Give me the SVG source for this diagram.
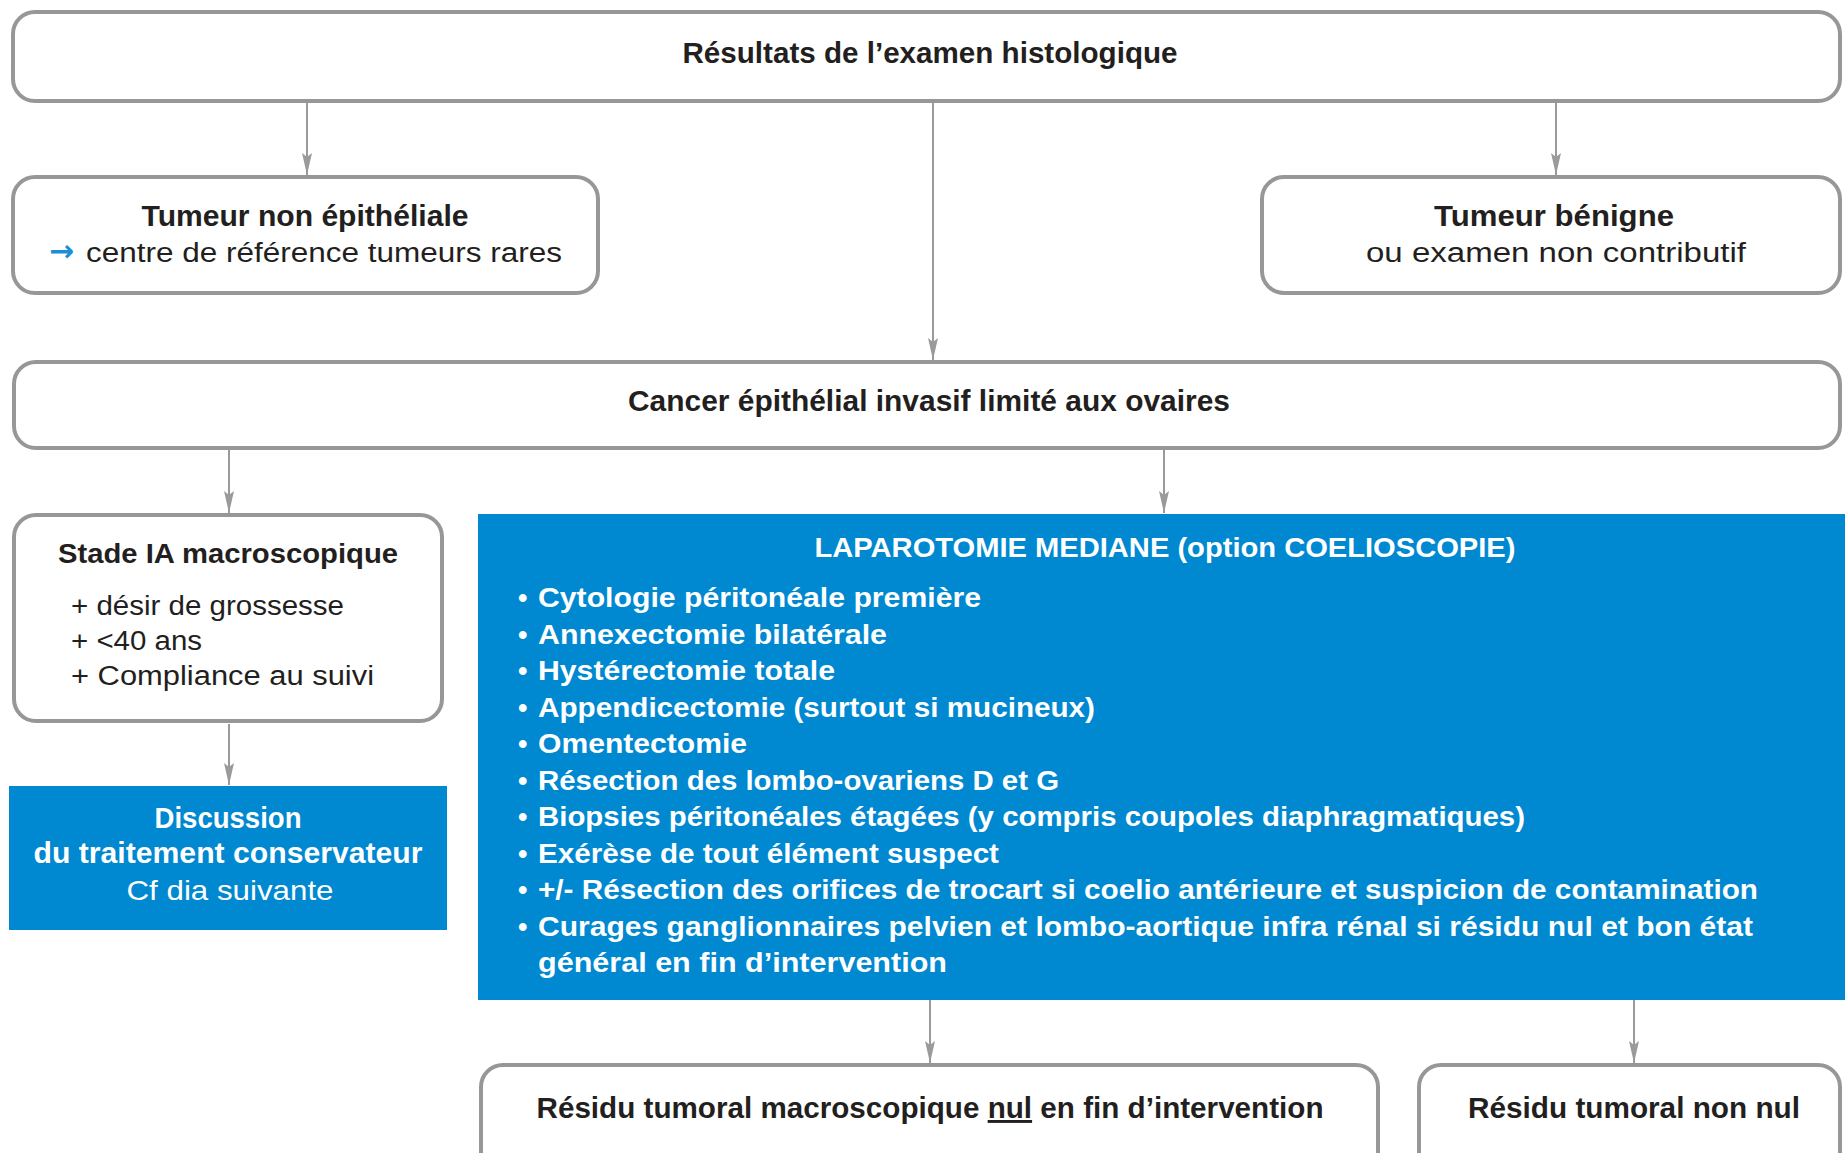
<svg xmlns="http://www.w3.org/2000/svg" width="1845" height="1153" viewBox="0 0 1845 1153">
<style>
.box{fill:#fff;stroke:#979797;stroke-width:4}
.blue{fill:#0088d1}
.t{font-family:"Liberation Sans Narrow","Liberation Sans",Arial,sans-serif;fill:#231f20}
.b{font-weight:bold}
.w{fill:#fff}
.c{text-anchor:middle}
.conn{stroke:#9a9a9a;stroke-width:2;fill:none}
</style>
<defs>
<marker id="ah" markerUnits="userSpaceOnUse" viewBox="0 0 22 10" markerWidth="22" markerHeight="10" refX="22" refY="5" orient="auto">
<path d="M0,0 L22,5 L0,10 L4,5 Z" fill="#9a9a9a"/>
</marker>
</defs>
<rect width="1845" height="1153" fill="#fff"/>

<g id="connectors">
<path class="conn" d="M307,103 V175" marker-end="url(#ah)"/>
<path class="conn" d="M933,103 V360" marker-end="url(#ah)"/>
<path class="conn" d="M1556,103 V175" marker-end="url(#ah)"/>
<path class="conn" d="M229,450 V513" marker-end="url(#ah)"/>
<path class="conn" d="M1164,450 V513" marker-end="url(#ah)"/>
<path class="conn" d="M229,724 V785" marker-end="url(#ah)"/>
<path class="conn" d="M930,1000 V1063" marker-end="url(#ah)"/>
<path class="conn" d="M1634,1000 V1063" marker-end="url(#ah)"/>
</g>

<g id="n-resultats">
<rect class="box" x="13" y="12" width="1827" height="89" rx="22"/>
<text class="t b c" x="930" y="63" font-size="29" textLength="495" lengthAdjust="spacingAndGlyphs">Résultats de l’examen histologique</text>
</g>

<g id="n-non-epitheliale">
<rect class="box" x="13" y="177" width="585" height="116" rx="22"/>
<text class="t b c" x="305" y="226" font-size="30" textLength="327" lengthAdjust="spacingAndGlyphs">Tumeur non épithéliale</text>
<text x="49" y="261" font-size="30" font-weight="bold" font-family="'DejaVu Sans',sans-serif" fill="#1a8fd8" textLength="25" lengthAdjust="spacingAndGlyphs">→</text>
<text class="t" x="86" y="262" font-size="27" textLength="476" lengthAdjust="spacingAndGlyphs">centre de référence tumeurs rares</text>
</g>

<g id="n-benigne">
<rect class="box" x="1262" y="177" width="578" height="116" rx="22"/>
<text class="t b c" x="1554" y="226" font-size="30" textLength="240" lengthAdjust="spacingAndGlyphs">Tumeur bénigne</text>
<text class="t c" x="1556" y="262" font-size="27" textLength="380" lengthAdjust="spacingAndGlyphs">ou examen non contributif</text>
</g>

<g id="n-cancer">
<rect class="box" x="14" y="362" width="1826" height="86" rx="22"/>
<text class="t b c" x="929" y="411" font-size="29" textLength="602" lengthAdjust="spacingAndGlyphs">Cancer épithélial invasif limité aux ovaires</text>
</g>

<g id="n-stade">
<rect class="box" x="14" y="515" width="428" height="206" rx="22"/>
<text class="t b c" x="228" y="563" font-size="28" textLength="340" lengthAdjust="spacingAndGlyphs">Stade IA macroscopique</text>
<text class="t" x="71" y="615" font-size="27" textLength="273" lengthAdjust="spacingAndGlyphs">+ désir de grossesse</text>
<text class="t" x="71" y="650" font-size="27" textLength="131" lengthAdjust="spacingAndGlyphs">+ &lt;40 ans</text>
<text class="t" x="71" y="685" font-size="27" textLength="303" lengthAdjust="spacingAndGlyphs">+ Compliance au suivi</text>
</g>

<g id="n-discussion">
<rect class="blue" x="9" y="786" width="438" height="144"/>
<text class="t b c w" x="228" y="828" font-size="29" textLength="147" lengthAdjust="spacingAndGlyphs">Discussion</text>
<text class="t b c w" x="228" y="863" font-size="29" textLength="389" lengthAdjust="spacingAndGlyphs">du traitement conservateur</text>
<text class="t c w" x="230" y="900" font-size="28" textLength="207" lengthAdjust="spacingAndGlyphs">Cf dia suivante</text>
</g>

<g id="n-laparotomie">
<rect class="blue" x="478" y="514" width="1367" height="486"/>
<text class="t b c w" x="1165" y="557" font-size="28" textLength="701" lengthAdjust="spacingAndGlyphs">LAPAROTOMIE MEDIANE (option COELIOSCOPIE)</text>
<g class="t b w" font-size="27">
<text class="t b w" x="518" y="607">•</text>
<text class="t b w" x="538" y="607" textLength="443" lengthAdjust="spacingAndGlyphs">Cytologie péritonéale première</text>
<text class="t b w" x="518" y="643.5">•</text>
<text class="t b w" x="538" y="643.5" textLength="349" lengthAdjust="spacingAndGlyphs">Annexectomie bilatérale</text>
<text class="t b w" x="518" y="680">•</text>
<text class="t b w" x="538" y="680" textLength="297" lengthAdjust="spacingAndGlyphs">Hystérectomie totale</text>
<text class="t b w" x="518" y="716.5">•</text>
<text class="t b w" x="538" y="716.5" textLength="557" lengthAdjust="spacingAndGlyphs">Appendicectomie (surtout si mucineux)</text>
<text class="t b w" x="518" y="753">•</text>
<text class="t b w" x="538" y="753" textLength="209" lengthAdjust="spacingAndGlyphs">Omentectomie</text>
<text class="t b w" x="518" y="789.5">•</text>
<text class="t b w" x="538" y="789.5" textLength="521" lengthAdjust="spacingAndGlyphs">Résection des lombo-ovariens D et G</text>
<text class="t b w" x="518" y="826">•</text>
<text class="t b w" x="538" y="826" textLength="987" lengthAdjust="spacingAndGlyphs">Biopsies péritonéales étagées (y compris coupoles diaphragmatiques)</text>
<text class="t b w" x="518" y="862.5">•</text>
<text class="t b w" x="538" y="862.5" textLength="461" lengthAdjust="spacingAndGlyphs">Exérèse de tout élément suspect</text>
<text class="t b w" x="518" y="899">•</text>
<text class="t b w" x="538" y="899" textLength="1220" lengthAdjust="spacingAndGlyphs">+/- Résection des orifices de trocart  si coelio antérieure et suspicion de contamination</text>
<text class="t b w" x="518" y="935.5">•</text>
<text class="t b w" x="538" y="935.5" textLength="1215" lengthAdjust="spacingAndGlyphs">Curages ganglionnaires pelvien et lombo-aortique infra rénal si résidu nul et bon état</text>
<text class="t b w" x="538" y="972" textLength="409" lengthAdjust="spacingAndGlyphs">général en fin d’intervention</text>
</g>
</g>

<g id="n-residu-nul">
<rect class="box" x="481" y="1065" width="897" height="110" rx="22"/>
<text class="t b c" x="930" y="1118" font-size="29" textLength="787" lengthAdjust="spacingAndGlyphs">Résidu tumoral macroscopique <tspan text-decoration="underline">nul</tspan> en fin d’intervention</text>
</g>

<g id="n-residu-non-nul">
<rect class="box" x="1419" y="1065" width="421" height="110" rx="22"/>
<text class="t b c" x="1634" y="1118" font-size="29" textLength="332" lengthAdjust="spacingAndGlyphs">Résidu tumoral non nul</text>
</g>
</svg>
